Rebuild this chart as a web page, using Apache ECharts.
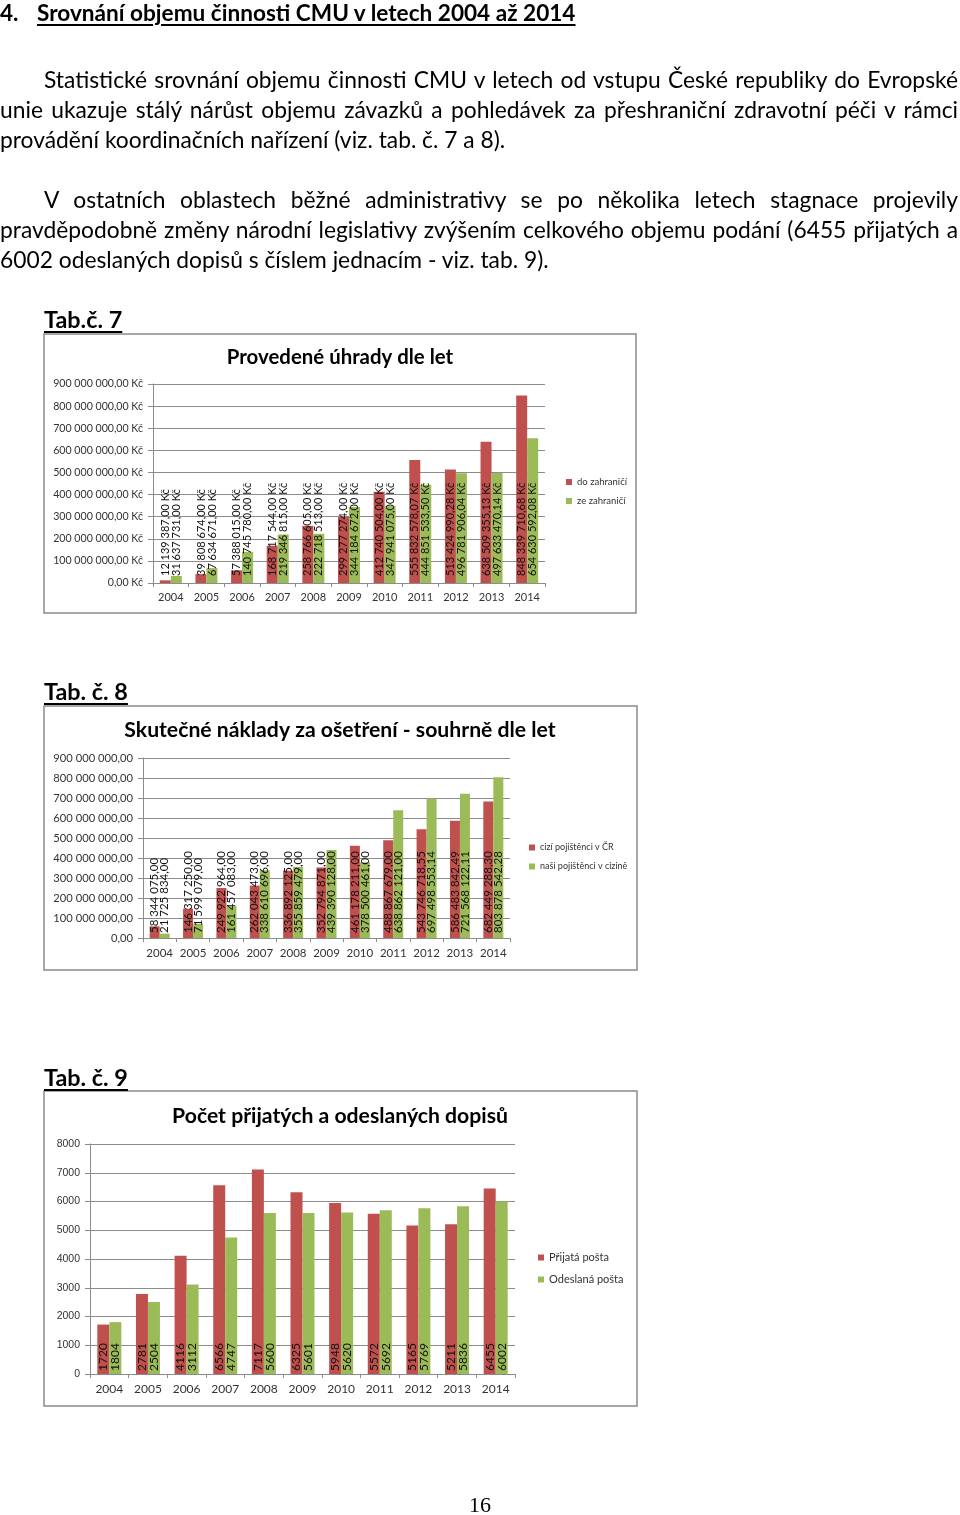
<!DOCTYPE html>
<html>
<head>
<meta charset="utf-8">
<script src="https://cdn.jsdelivr.net/npm/echarts@6/dist/echarts.min.js"></script>
<style>
html,body{margin:0;padding:0;background:#fff;}
#page{position:relative;width:960px;height:1515px;overflow:hidden;font-family:Lato,'Noto Sans',sans-serif;color:#000;}
#chart{position:absolute;left:0;top:0;width:960px;height:1515px;}
.t{position:absolute;font-size:22.8px;line-height:30px;white-space:nowrap;}
.j{text-align:justify;text-align-last:justify;white-space:normal;}
.h{font-weight:bold;font-size:22.6px;}
.u{text-decoration:underline;text-decoration-thickness:2px;text-underline-offset:3px;}
</style>
</head>
<body>
<div id="page">
<div id="chart"></div>
<div class="t h" style="left:0;top:-2px;">4.</div>
<div class="t h u" style="left:37px;top:-2px;">Srovnání objemu činnosti CMU v letech 2004 až 2014</div>
<div class="t j" style="left:44px;width:914px;top:64px;">Statistické srovnání objemu činnosti CMU v letech od vstupu České republiky do Evropské</div>
<div class="t j" style="left:0;width:958px;top:94px;">unie ukazuje stálý nárůst objemu závazků a pohledávek za přeshraniční zdravotní péči v rámci</div>
<div class="t" style="left:0;top:124px;">provádění koordinačních nařízení (viz. tab. č. 7 a 8).</div>
<div class="t j" style="left:44px;width:914px;top:184px;">V ostatních oblastech běžné administrativy se po několika letech stagnace projevily</div>
<div class="t j" style="left:0;width:958px;top:214px;">pravděpodobně změny národní legislativy zvýšením celkového objemu podání (6455 přijatých a</div>
<div class="t" style="left:0;top:244px;">6002 odeslaných dopisů s číslem jednacím - viz. tab. 9).</div>
<div class="t h u" style="left:44px;top:304px;font-size:23.4px;">Tab.č. 7</div>
<div class="t h u" style="left:44px;top:676px;font-size:23.4px;">Tab. č. 8</div>
<div class="t h u" style="left:44px;top:1062px;font-size:23.4px;">Tab. č. 9</div>
<div class="t" style="left:0;width:960px;text-align:center;top:1490px;font-family:'Liberation Serif',serif;font-size:22px;">16</div>
</div>
<script>
const years = ['2004','2005','2006','2007','2008','2009','2010','2011','2012','2013','2014'];

const t7Names = ['do zahraničí','ze zahraničí'];
const t7Out = [12139387.00, 39808674.00, 57388015.00, 168717544.00, 258766605.00, 299277274.00, 412740504.00, 555832578.07, 513424990.28, 638509355.13, 848339710.68];
const t7In  = [31637731.00, 67634671.00, 140745780.00, 219346815.00, 222718513.00, 344184672.00, 347941075.00, 444851533.50, 496781906.04, 497633470.14, 654630592.08];

const t8Names = ['cizí pojištěnci v ČR','naši pojištěnci v cizině'];
const t8Foreign = [58344075.00, 146317250.00, 249922964.00, 262043473.00, 336892125.00, 352794871.00, 461178211.00, 488867679.00, 543746718.55, 586483842.49, 682449288.30];
const t8Ours    = [21725834.00, 71599079.00, 161457083.00, 338610696.00, 355859479.00, 439390128.00, 378500461.00, 638862121.00, 697498553.14, 721568122.11, 803878542.28];

const t9Names = ['Přijatá pošta','Odeslaná pošta'];
const t9Recv = [1720, 2781, 4116, 6566, 7117, 6325, 5948, 5572, 5165, 5211, 6455];
const t9Sent = [1804, 2504, 3112, 4747, 5600, 5601, 5620, 5692, 5769, 5836, 6002];

const titles = ['Provedené úhrady dle let','Skutečné náklady za ošetření - souhrně dle let','Počet přijatých a odeslaných dopisů'];

const RED = '#C0504D', GREEN = '#9BBB59', GRIDC = '#8c8c8c', FONT = 'Lato';

function fmt(v){
  const p = v.toFixed(2).split('.');
  return p[0].replace(/\B(?=(\d{3})+(?!\d))/g,' ') + ',' + p[1];
}

const chart = echarts.init(document.getElementById('chart'), null, {renderer:'canvas'});

function xAx(gi, fs){
  return {type:'category', gridIndex:gi, data:years,
    axisLine:{lineStyle:{color:GRIDC}}, axisTick:{show:true, length:4, lineStyle:{color:GRIDC}},
    axisLabel:{color:'#333', fontFamily:FONT, fontSize:fs, margin:9, interval:0}};
}
function yAx(gi, max, interval, fmtFn, fs, ff){
  return {type:'value', gridIndex:gi, min:0, max:max, interval:interval,
    axisLine:{show:true, lineStyle:{color:GRIDC}}, axisTick:{show:true, length:5, lineStyle:{color:GRIDC}},
    splitLine:{lineStyle:{color:GRIDC, width:1}},
    axisLabel:{color:'#333', fontFamily:ff||FONT, fontSize:fs, margin:10, formatter:fmtFn}};
}
function barS(name, data, gi, color, bw, fs, lf, dist){
  return {type:'bar', name:name, xAxisIndex:gi, yAxisIndex:gi, data:data, barWidth:bw, barGap:'0%',
    itemStyle:{color:color}, animation:false,
    label:{show:true, position:'insideBottom', rotate:90, align:'left', verticalAlign:'middle',
      distance:dist, color:'#111', fontFamily:FONT, fontSize:fs, formatter:function(p){return lf(p.value);}}};
}
function leg(names, left, top, gap, fs){
  return {data:names, orient:'vertical', left:left, top:top, icon:'rect', itemWidth:6, itemHeight:6,
    itemGap:gap, textStyle:{fontFamily:FONT, fontSize:fs, color:'#333'}, selectedMode:false};
}

const option = {
  animation:false,
  grid:[
    {left:153, right:415, top:384, bottom:932},
    {left:143, right:450, top:758, bottom:577},
    {left:90, right:445, top:1144, bottom:141}
  ],
  xAxis:[xAx(0,11), xAx(1,11.5), xAx(2,12)],
  yAxis:[
    yAx(0, 900000000, 100000000, function(v){return fmt(v)+' Kč';}, 10.6),
    yAx(1, 900000000, 100000000, function(v){return fmt(v);}, 11.2),
    yAx(2, 8000, 1000, function(v){return String(v);}, 10.5, 'Liberation Sans')
  ],
  legend:[
    leg(t7Names, 561, 472, 9, 9.5),
    leg(t8Names, 524, 838, 10, 9),
    leg(t9Names, 533, 1247, 11, 11)
  ],
  series:[
    barS(t7Names[0], t7Out, 0, RED, 11, 11, function(v){return fmt(v)+' Kč';}, 7),
    barS(t7Names[1], t7In, 0, GREEN, 11, 11, function(v){return fmt(v)+' Kč';}, 7),
    barS(t8Names[0], t8Foreign, 1, RED, 10, 11.5, fmt, 5),
    barS(t8Names[1], t8Ours, 1, GREEN, 10, 11.5, fmt, 5),
    barS(t9Names[0], t9Recv, 2, RED, 12, 12, String, 3),
    barS(t9Names[1], t9Sent, 2, GREEN, 12, 12, String, 3)
  ],
  graphic:[
    {type:'rect', shape:{x:44, y:334, width:592, height:279}, style:{fill:'none', stroke:'#8a8a8a', lineWidth:1.5}},
    {type:'rect', shape:{x:44, y:706, width:593, height:264}, style:{fill:'none', stroke:'#8a8a8a', lineWidth:1.5}},
    {type:'rect', shape:{x:44, y:1091, width:593, height:315}, style:{fill:'none', stroke:'#8a8a8a', lineWidth:1.5}},
    {type:'text', x:340, y:357, style:{text:titles[0], textAlign:'center', textVerticalAlign:'middle', font:'bold 20.4px Lato', fill:'#000'}},
    {type:'text', x:340, y:730, style:{text:titles[1], textAlign:'center', textVerticalAlign:'middle', font:'bold 21.2px Lato', fill:'#000'}},
    {type:'text', x:340, y:1116, style:{text:titles[2], textAlign:'center', textVerticalAlign:'middle', font:'bold 21.2px Lato', fill:'#000'}}
  ]
};
chart.setOption(option);
</script>
</body>
</html>
